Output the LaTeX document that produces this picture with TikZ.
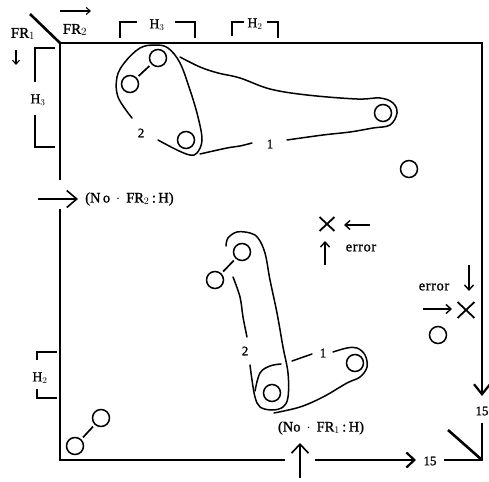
\documentclass[tikz,border=0pt]{standalone}
\usepackage{fontspec}
\setmainfont{Liberation Serif}[FakeBold=1.2]
\usetikzlibrary{arrows.meta,shapes.misc}
\tikzset{
  frame/.style={line width=2.6pt},
  loopline/.style={line width=1.5pt,line cap=round},
  ball/.style={circle,draw,line width=1.5pt,minimum size=17pt,inner sep=0pt},
  link/.style={line width=1.7pt,shorten <=2.5pt,shorten >=2.5pt},
  bracket/.style={line width=1.6pt},
  lbl/.style={inner sep=0pt,font=\fontsize{13}{13}\selectfont},
  hlbl/.style={inner sep=0pt,font=\fontsize{13.5}{13.5}\selectfont},
  elbl/.style={inner sep=0pt,font=\fontsize{14.5}{14.5}\selectfont\addfontfeature{LetterSpace=4}},
  thinarrow/.style={line width=1.1pt,-{Straight Barb[length=4pt,width=7pt]}},
  errarrow/.style={line width=1.4pt,-{Straight Barb[length=5pt,width=9pt]}},
  bigarrow/.style={line width=2.2pt,-{Straight Barb[length=10pt,width=16pt,line width=2.2pt]}},
  xmark/.style={cross out,draw,line width=1.8pt,minimum width=13pt,minimum height=12pt,inner sep=0pt}
}
\begin{document}
\begin{tikzpicture}[x=1pt,y=-1pt]
\useasboundingbox (0,0) rectangle (489,481);
% ---- frame ----
\coordinate (tl) at (60,43);
\coordinate (tr) at (482,43);
\coordinate (bl) at (60,460);
\coordinate (cbr) at (482,460);
\coordinate (cbrh) at (444,460);
\coordinate (cbrv) at (482,423);
\coordinate (cbrd) at (448,430);
\draw[frame] (30,14) -- (tl);
\draw[frame] (60,180) -- (tl) -- (tr) -- (482,395);
\draw[frame] (60,209) -- (bl) -- (285,460);
\draw[frame] (cbrh) -- (cbr) -- (cbrv);
\draw[frame] (cbrd) -- (cbr);
% arrows on frame
\coordinate (rdA) at (482,380);
\coordinate (rdB) at (482,396);
\draw[bigarrow] (rdA) -- (rdB);
\coordinate (bA) at (315,460);
\coordinate (bB) at (416,460);
\draw[bigarrow,-{Straight Barb[length=8pt,width=15pt,line width=2.2pt]}] (bA) -- (bB);
\coordinate (uA) at (300,478);
\coordinate (uB) at (300,443);
\draw[line width=1.6pt,-{Straight Barb[length=9pt,width=17pt,line width=1.6pt]}] (uA) -- (uB);
\coordinate (lA) at (38,199);
\coordinate (lB) at (78,199);
\draw[line width=1.6pt,-{Straight Barb[length=10pt,width=17pt,line width=1.6pt]}] (lA) -- (lB);
% labels on frame
\node[lbl,font=\fontsize{15}{15}\selectfont] (fr1) at (23,34) {FR$_1$};
\node[lbl,font=\fontsize{15}{15}\selectfont] (fr2) at (75,30) {FR$_2$};
\coordinate (fr1a) at (16,50);
\coordinate (fr1b) at (16,65);
\draw[thinarrow] (fr1a) -- (fr1b);
\coordinate (fr2a) at (60,11);
\coordinate (fr2b) at (91,11);
\draw[thinarrow] (fr2a) -- (fr2b);
\node[lbl,font=\fontsize{14.5}{14.5}\selectfont,anchor=west] (nofr2) at (85,199) {(N\,o\, $\cdot$\, FR$_2$\,:\,H)};
\node[lbl,font=\fontsize{14.5}{14.5}\selectfont] (nofr1) at (321,428) {(No\, $\cdot$\, FR$_1$\,:\,H)};
\node[lbl] (f15a) at (482,411) {15};
\node[lbl] (f15b) at (430,461) {15};
% ---- brackets ----
\node[hlbl] (h3t) at (157,25) {H$_3$};
\draw[bracket] (120,38) -- (120,22) -- (137,22);
\draw[bracket] (175,22) -- (195,22) -- (195,38);
\node[hlbl] (h2t) at (255,24) {H$_2$};
\draw[bracket] (232,36) -- (232,22) -- (244,22);
\draw[bracket] (267,22) -- (278,22) -- (278,38);
\node[hlbl] (h3l) at (38,100) {H$_3$};
\draw[bracket] (55,48) -- (35,48) -- (35,82);
\draw[bracket] (35,115) -- (35,147) -- (55,147);
\node[hlbl] (h2l) at (40,378) {H$_2$};
\draw[bracket] (57,352) -- (37,352) -- (37,360);
\draw[bracket] (37,389) -- (37,398) -- (57,398);
% ---- balls ----
\node[ball] (c1) at (158,58) {};
\node[ball] (c2) at (130,84) {};
\node[ball] (c3) at (186,140) {};
\node[ball] (c4) at (383,113) {};
\node[ball] (c5) at (409,169) {};
\node[ball] (c6) at (242,252) {};
\node[ball] (c7) at (215,280) {};
\node[ball] (c8) at (272,393) {};
\node[ball] (c9) at (355,363) {};
\node[ball] (c10) at (75,446) {};
\node[ball] (c11) at (101,418) {};
\node[ball] (c12) at (438,335) {};
\draw[link] (c2) -- (c1);
\draw[link] (c7) -- (c6);
\draw[link] (c10) -- (c11);
% ---- top loops ----
\draw[loopline] plot[smooth,tension=0.6] coordinates {(158,140) (177,150) (190,155) (197,153) (202,140) (198,117) (190,90) (180,63) (168,48) (155,45) (140,48) (125,62) (117,77) (118,97) (132,118)};
\node[lbl] (t2) at (141,133) {2};
\draw[loopline] plot[smooth,tension=0.6] coordinates {(180,57) (200,67) (218,73) (240,78) (270,89) (307,95) (357,99) (380,98) (393,103) (397,113) (390,125) (373,128) (350,132) (323,135) (287,140)};
\draw[loopline] plot[smooth,tension=0.6] coordinates {(252,143) (240,146) (227,148) (200,154)};
\node[lbl] (t1) at (270,144) {1};
% ---- middle loops ----
\draw[loopline] plot[smooth,tension=0.6] coordinates {(233,277) (240,297) (243,317) (247,337)};
\draw[loopline] plot[smooth,tension=0.6] coordinates {(250,365) (252,380) (255,397) (260,407) (272,410) (283,407) (288,397) (288,373) (283,347) (277,313) (270,280) (265,253) (258,238) (250,233) (237,232) (228,238) (226,246)};
\node[lbl] (m2) at (245,351) {2};
\draw[loopline] plot[smooth,tension=0.6] coordinates {(255,391) (260,373) (270,366) (281,364)};
\draw[loopline] plot[smooth,tension=0.6] coordinates {(292,361) (312,354)};
\draw[loopline] plot[smooth,tension=0.6] coordinates {(333,352) (347,348) (357,348) (365,355) (367,367) (360,377) (347,383) (323,397) (300,407) (274,413)};
\node[lbl] (m1) at (323,353) {1};
% ---- errors ----
\node[xmark] (x1) at (327,224) {};
\coordinate (e1a) at (370,225);
\coordinate (e1b) at (344,225);
\draw[errarrow] (e1a) -- (e1b);
\coordinate (e2a) at (325,265);
\coordinate (e2b) at (325,241);
\draw[errarrow] (e2a) -- (e2b);
\node[elbl] (err1) at (361,248) {error};
\node[xmark,minimum width=15pt,minimum height=14pt] (x2) at (466,310) {};
\node[elbl] (err2) at (434,287) {error};
\coordinate (e3a) at (469,265);
\coordinate (e3b) at (469,291);
\draw[errarrow] (e3a) -- (e3b);
\coordinate (e4a) at (423,309);
\coordinate (e4b) at (452,309);
\draw[errarrow] (e4a) -- (e4b);
\end{tikzpicture}
\end{document}
